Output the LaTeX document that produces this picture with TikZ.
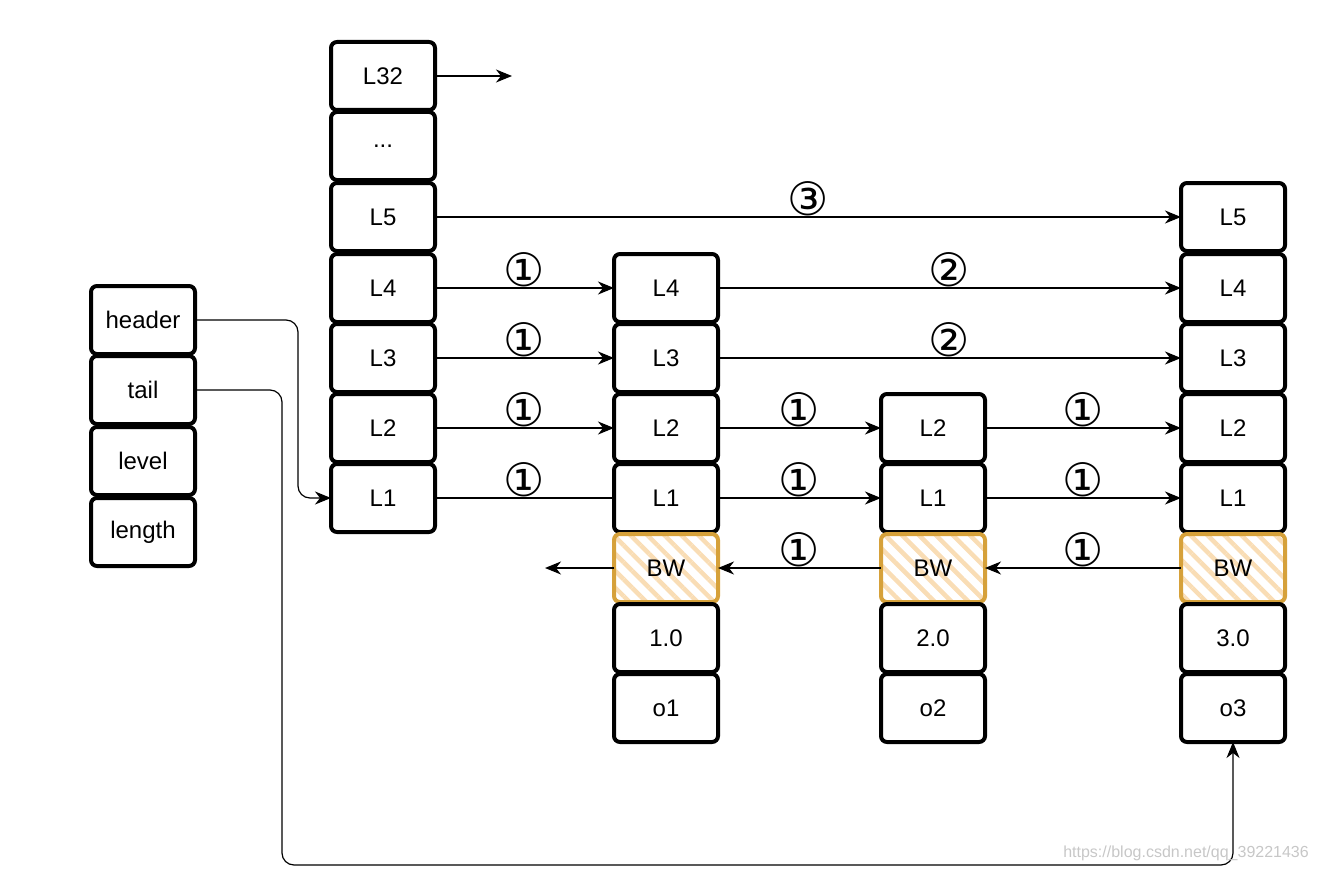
\documentclass[tikz,border=0pt]{standalone}
\usepackage{fontspec}
\setmainfont{Liberation Sans}
\newfontfamily\circfont{DejaVu Sans}
\usetikzlibrary{arrows.meta,patterns.meta}
\definecolor{bwborder}{HTML}{D6A13A}
\definecolor{bwhatch}{HTML}{F9DDB5}
\tikzset{
  cell/.style={draw=black,line width=4pt,rounded corners=6pt,minimum width=104pt,minimum height=68pt,inner sep=0pt,outer sep=0pt,font=\fontsize{24}{28}\selectfont,fill=white},
  bwcell/.style={cell,draw=bwborder,pattern={Lines[angle=135,distance=12pt,line width=4.5pt]},pattern color=bwhatch},
  link/.style={line width=1.4pt,-{Stealth[length=16pt,width=13pt,inset=5pt]}},
  plain/.style={line width=1.4pt},
  num/.style={font=\circfont\fontsize{46}{46}\selectfont,inner sep=0pt,above=0pt,midway},
  wire/.style={line width=1.2pt,rounded corners=12pt,-{Stealth[length=16pt,width=13pt,inset=5pt]}}
}
\begin{document}
\begin{tikzpicture}[x=1pt,y=-1pt]
\useasboundingbox (0,0) rectangle (1317,872);
% left struct
\node[cell] (h) at (143,320) {header};
\node[cell] (t) at (143,390) {tail};
\node[cell] (lv) at (143,461) {level};
\node[cell] (ln) at (143,532) {length};
% header column
\node[cell] (m32) at (383,76) {L32};
\node[cell] (md) at (383,146) {...};
\node[cell] (m5) at (383,217) {L5};
\node[cell] (m4) at (383,288) {L4};
\node[cell] (m3) at (383,358) {L3};
\node[cell] (m2) at (383,428) {L2};
\node[cell] (m1) at (383,498) {L1};
% o1 column
\node[cell] (a4) at (666,288) {L4};
\node[cell] (a3) at (666,358) {L3};
\node[cell] (a2) at (666,428) {L2};
\node[cell] (a1) at (666,498) {L1};
\node[bwcell] (abw) at (666,568) {BW};
\node[cell] (av) at (666,638) {1.0};
\node[cell] (ao) at (666,708) {o1};
% o2 column
\node[cell] (b2) at (933,428) {L2};
\node[cell] (b1) at (933,498) {L1};
\node[bwcell] (bbw) at (933,568) {BW};
\node[cell] (bv) at (933,638) {2.0};
\node[cell] (bo) at (933,708) {o2};
% o3 column
\node[cell] (c5) at (1233,217) {L5};
\node[cell] (c4) at (1233,288) {L4};
\node[cell] (c3) at (1233,358) {L3};
\node[cell] (c2) at (1233,428) {L2};
\node[cell] (c1) at (1233,498) {L1};
\node[bwcell] (cbw) at (1233,568) {BW};
\node[cell] (cv) at (1233,638) {3.0};
\node[cell] (co) at (1233,708) {o3};
% free ends
\coordinate (e32) at (512,76);
\coordinate (ebw) at (545,568);
\coordinate (tb) at (282,865);
% forward links
\draw[link] (m32) -- (e32);
\draw[link] (m5) -- node[num]{③} (c5);
\draw[link] (m4) -- node[num]{①} (a4);
\draw[link] (a4) -- node[num]{②} (c4);
\draw[link] (m3) -- node[num]{①} (a3);
\draw[link] (a3) -- node[num]{②} (c3);
\draw[link] (m2) -- node[num]{①} (a2);
\draw[link] (a2) -- node[num]{①} (b2);
\draw[link] (b2) -- node[num]{①} (c2);
\draw[plain] (m1) -- node[num]{①} (a1);
\draw[link] (a1) -- node[num]{①} (b1);
\draw[link] (b1) -- node[num]{①} (c1);
% backward links
\draw[link] (cbw) -- node[num]{①} (bbw);
\draw[link] (bbw) -- node[num]{①} (abw);
\draw[link] (abw) -- (ebw);
% header / tail wires
\draw[wire] (h.east) -- ++(103,0) |- (m1.west);
\draw[wire] (t.east) -| (tb) -| (co.south);
% watermark
\node[anchor=east,text=black!22,font=\fontsize{16}{18}\selectfont,inner sep=0pt] (wm) at (1309,853) {https://blog.csdn.net/qq\_39221436};
\end{tikzpicture}
\end{document}
